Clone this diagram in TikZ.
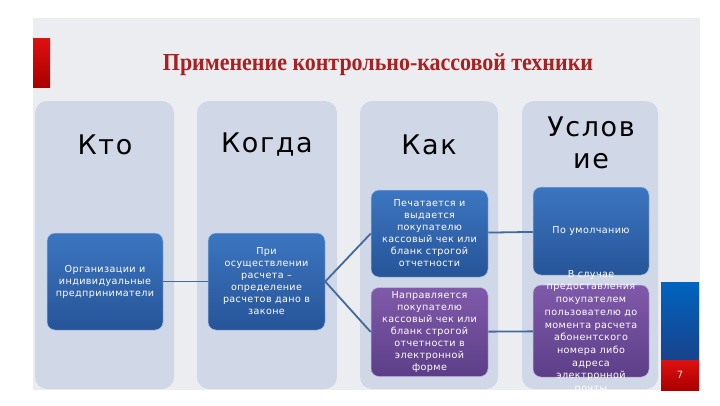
\documentclass[tikz,border=0pt]{standalone}
\usepackage{fontspec}
\usepackage{tikz}
\setmainfont{DejaVu Sans}[LetterSpace=6]
\newfontfamily\cardfont{DejaVu Sans}[LetterSpace=4]
\newfontfamily\titlefont{Liberation Serif}[FakeStretch=0.9]
\definecolor{slideGray}{RGB}{236, 237, 241}
\definecolor{colBlue}{RGB}{208, 216, 232}
\definecolor{boxTop}{RGB}{60, 118, 192}
\definecolor{boxBottom}{RGB}{38, 84, 152}
\definecolor{violetTop}{RGB}{128, 90, 170}
\definecolor{violetBottom}{RGB}{92, 62, 136}
\definecolor{linkBlue}{RGB}{66, 106, 156}
\definecolor{titleRed}{RGB}{168, 32, 32}
\definecolor{barRed}{RGB}{222, 16, 16}
\definecolor{barDark}{RGB}{170, 0, 0}
\definecolor{barBlue}{RGB}{0, 100, 190}
\definecolor{barNavy}{RGB}{24, 66, 140}

\begin{document}
\begin{tikzpicture}[x=1pt, y=-1pt,
    column/.style={fill=colBlue, rounded corners=12pt},
    header/.style={font=\fontsize{27}{32}\selectfont, align=center},
    card/.style={rounded corners=8pt, draw=white!55!boxTop, line width=0.5pt,
        top color=boxTop, bottom color=boxBottom, text=white, align=center,
        inner sep=1pt, font=\cardfont\fontsize{9.6}{12}\selectfont},
    violet/.style={card, draw=white!55!violetTop, top color=violetTop, bottom color=violetBottom},
    link/.style={linkBlue, line width=1.8pt}]
    \useasboundingbox (0,0) rectangle (720,405);
    \fill[white] (0,0) rectangle (720,405);
    \fill[slideGray] (33,18) rectangle (700,390);
    \shade[top color=barRed, bottom color=barDark] (33,38) rectangle (50,87);
    \node[font=\titlefont\bfseries\fontsize{24.4}{28}\selectfont, text=titleRed] (title) at (378,65) {Применение контрольно-кассовой техники};

    \fill[column] (35,101) rectangle (174,389);
    \fill[column] (197,101) rectangle (337,389);
    \fill[column] (360,101) rectangle (498,389);
    \fill[column] (522,101) rectangle (658,389);

    \node[header] (kto) at (105,145) {Кто};
    \node[header] (kogda) at (267,145) {Когда};
    \node[header] (kak) at (429,145) {Как};
    \node[header] (uslovie) at (591,143) {Услов\\ие};

    \node[card, minimum width=116pt, minimum height=97pt] (org) at (105,281.5) {Организации и\\индивидуальные\\предприниматели};
    \node[card, minimum width=117pt, minimum height=97pt] (raschet) at (266.5,281.5) {При\\осуществлении\\расчета –\\определение\\расчетов дано в\\законе};
    \node[card, minimum width=117pt, minimum height=87pt] (pechat) at (429.5,233.5) {Печатается и\\выдается\\покупателю\\кассовый чек или\\бланк строгой\\отчетности};
    \node[violet, minimum width=117pt, minimum height=89pt] (napravl) at (429.5,332) {Направляется\\покупателю\\кассовый чек или\\бланк строгой\\отчетности в\\электронной\\форме};
    \node[card, minimum width=116pt, minimum height=88pt] (umolch) at (591,231) {По умолчанию};
    \node[violet, minimum width=116pt, minimum height=92pt] (sluchai) at (591,331) {};
    \node[text=white, align=center, font=\cardfont\fontsize{9.6}{12.7}\selectfont] (sluchaitext) at (sluchai.center) {В случае\\предоставления\\покупателем\\пользователю до\\момента расчета\\абонентского\\номера либо\\адреса\\электронной\\почты};

    \draw[link] (org) -- (raschet);
    \draw[link] (raschet.east) -- (pechat.west);
    \draw[link] (raschet.east) -- (napravl.west);
    \draw[link] (pechat) -- (umolch);
    \draw[link] (napravl) -- (sluchai);

    \shade[top color=barBlue, bottom color=barNavy] (661,282) rectangle (699,360);
    \shade[top color=barRed, bottom color=barDark] (661,360) rectangle (699,390);
    \node[text=white!85!red, font=\fontsize{10}{12}\selectfont] (page) at (680,375) {7};
\end{tikzpicture}
\end{document}
